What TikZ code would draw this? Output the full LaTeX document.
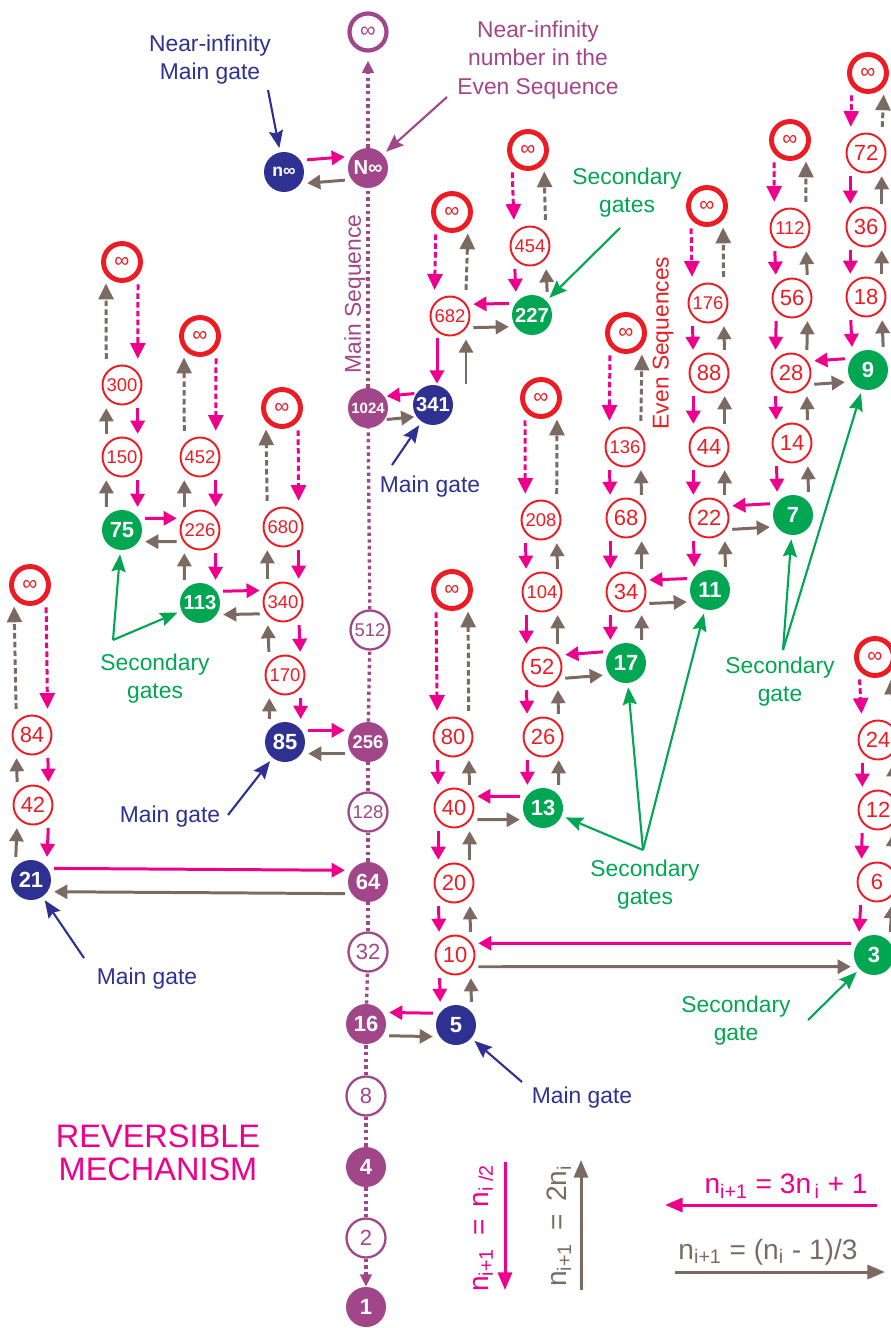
\documentclass[tikz,border=0pt]{standalone}
\usepackage{fontspec}
\setmainfont{Liberation Sans}
\usepackage{tikz}
\usetikzlibrary{arrows.meta}

\definecolor{evenred}{HTML}{ED1C24}
\definecolor{downpink}{HTML}{EC008C}
\definecolor{upbrown}{HTML}{7B6A62}
\definecolor{mainpurple}{HTML}{A2468A}
\definecolor{gateblue}{HTML}{2E3192}
\definecolor{gategreen}{HTML}{00A651}

\newcommand{\numsize}{\fontsize{12.5}{14}\selectfont}
\newcommand{\tinynum}{\fontsize{10.5}{12}\selectfont}
\newcommand{\lblsize}{\fontsize{13}{16}\selectfont}

\begin{document}
\begin{tikzpicture}[x=0.02cm,y=-0.02cm]
\useasboundingbox (0,0) rectangle (891,1328);
\clip (0,0) rectangle (891,1328);

% main sequence (powers of two)
\begin{scope}[every node/.style={circle,fill=mainpurple,text=white,inner sep=0pt,minimum size=0.8cm,font=\bfseries\numsize}]
    \node (Ninf) at (368,168) [font=\bfseries\fontsize{11.5}{12}\selectfont] {N∞};
    \node (1024) at (368,408) [font=\bfseries\fontsize{8.5}{10}\selectfont] {1024};
    \node (256) at (368,742) [font=\bfseries\tinynum] {256};
    \node (64) at (368,882) {64};
    \node (16) at (366,1024) {16};
    \node (4) at (366,1167) {4};
    \node (1) at (366,1307) {1};
\end{scope}
\begin{scope}[every node/.style={circle,draw=mainpurple,line width=1.3pt,text=mainpurple,inner sep=0pt,minimum size=0.78cm,font=\numsize}]
    \node (itop) at (368,32) [line width=2.4pt,minimum size=0.74cm] {∞};
    \node (512) at (370,630) [font=\tinynum] {512};
    \node (128) at (368,812) [font=\tinynum] {128};
    \node (32) at (368,952) {32};
    \node (8) at (366,1096) {8};
    \node (2) at (366,1238) {2};
\end{scope}

% main gates
\begin{scope}[every node/.style={circle,fill=gateblue,text=white,inner sep=0pt,minimum size=0.8cm,font=\bfseries\numsize}]
    \node (ninf) at (284,172) [font=\bfseries\fontsize{10}{12}\selectfont] {n∞};
    \node (341) at (433,405) [font=\bfseries\fontsize{11.5}{12}\selectfont] {341};
    \node (85) at (285,742) {85};
    \node (21) at (31,880) {21};
    \node (5) at (456,1025) {5};
\end{scope}

% secondary gates
\begin{scope}[every node/.style={circle,fill=gategreen,text=white,inner sep=0pt,minimum size=0.8cm,font=\bfseries\numsize}]
    \node (75) at (122,530) {75};
    \node (113) at (200,603) [font=\bfseries\fontsize{11.5}{12}\selectfont] {113};
    \node (227) at (532,315) [font=\bfseries\fontsize{11.5}{12}\selectfont] {227};
    \node (13) at (543,808) {13};
    \node (17) at (626,663) {17};
    \node (11) at (710,590) {11};
    \node (7) at (793,515) {7};
    \node (9) at (868,370) {9};
    \node (3) at (874,955) {3};
\end{scope}

% even sequences
\begin{scope}[every node/.style={circle,draw=evenred,line width=1.1pt,text=evenred,inner sep=0pt,minimum size=0.78cm,font=\numsize}]
    \node (300) at (122,385) [font=\tinynum] {300};
    \node (150) at (122,457) [font=\tinynum] {150};
    \node (452) at (200,457) [font=\tinynum] {452};
    \node (226) at (200,530) [font=\tinynum] {226};
    \node (680) at (283,527) [font=\tinynum] {680};
    \node (340) at (283,602) [font=\tinynum] {340};
    \node (170) at (285,675) [font=\tinynum] {170};
    \node (84) at (32,735) {84};
    \node (42) at (33,805) {42};
    \node (682) at (450,316) [font=\tinynum] {682};
    \node (454) at (530,246) [font=\tinynum] {454};
    \node (80) at (453,737) {80};
    \node (40) at (454,808) {40};
    \node (20) at (454,883) {20};
    \node (10) at (455,955) {10};
    \node (208) at (541,520) [font=\tinynum] {208};
    \node (104) at (542,592) [font=\tinynum] {104};
    \node (52) at (542,667) {52};
    \node (26) at (543,737) {26};
    \node (136) at (625,447) [font=\tinynum] {136};
    \node (68) at (626,518) {68};
    \node (34) at (626,592) {34};
    \node (176) at (708,303) [font=\tinynum] {176};
    \node (88) at (709,373) {88};
    \node (44) at (709,447) {44};
    \node (22) at (709,518) {22};
    \node (112) at (790,228) [font=\tinynum] {112};
    \node (56) at (792,298) {56};
    \node (28) at (791,373) {28};
    \node (14) at (792,443) {14};
    \node (72) at (866,153) {72};
    \node (36) at (866,227) {36};
    \node (18) at (866,297) {18};
    \node (24) at (878,740) {24};
    \node (12) at (878,810) {12};
    \node (6) at (877,882) {6};
\end{scope}
\begin{scope}[every node/.style={circle,draw=evenred,line width=2.8pt,text=evenred,inner sep=0pt,minimum size=0.74cm,font=\fontsize{12}{12}\selectfont}]
    \node (iA) at (30,585) {∞};
    \node (iB) at (122,262) {∞};
    \node (iC) at (200,336) {∞};
    \node (iD) at (282,408) {∞};
    \node (iL) at (452,212) {∞};
    \node (iM) at (528,150) {∞};
    \node (iE) at (452,590) {∞};
    \node (iF) at (541,398) {∞};
    \node (iG) at (626,333) {∞};
    \node (iH) at (707,206) {∞};
    \node (iI) at (790,140) {∞};
    \node (iJ) at (868,73) {∞};
    \node (iK) at (875,657) {∞};
\end{scope}

% labels
\begin{scope}[every node/.style={font=\lblsize,align=center}]
    \node (lbl_ninf) at (210,60) [text=gateblue] {Near-infinity\\Main gate};
    \node (lbl_Ninf) at (538,60) [text=mainpurple] {Near-infinity\\number in the\\Even Sequence};
    \node (lbl_main) at (355,294) [text=mainpurple,rotate=90] {Main Sequence};
    \node (lbl_even) at (663,343) [text=evenred,rotate=90] {Even Sequences};
    \node (lbl_341) at (430,487) [text=gateblue] {Main gate};
    \node (lbl_227) at (627,193) [text=gategreen] {Secondary\\gates};
    \node (lbl_left) at (155,679) [text=gategreen] {Secondary\\gates};
    \node (lbl_85) at (170,817) [text=gateblue] {Main gate};
    \node (lbl_21) at (147,979) [text=gateblue] {Main gate};
    \node (lbl_mid) at (645,885) [text=gategreen] {Secondary\\gates};
    \node (lbl_right) at (780,682) [text=gategreen] {Secondary\\gate};
    \node (lbl_3) at (736,1021) [text=gategreen] {Secondary\\gate};
    \node (lbl_5) at (582,1098) [text=gateblue] {Main gate};
    \node (lbl_rev) at (158,1153) [text=downpink,font=\fontsize{18.5}{19}\selectfont] {REVERSIBLE\\MECHANISM};
\end{scope}
\begin{scope}[every node/.style={font=\fontsize{16}{17}\selectfont}]
    \node (lbl_half) at (483,1228) [text=downpink,rotate=90] {n\textsubscript{i+1} \,=\, n\textsubscript{i /2}};
    \node (lbl_double) at (559,1226) [text=upbrown,rotate=90] {n\textsubscript{i+1} \,=\, 2n\textsubscript{i}};
    \node (lbl_triple) at (786,1186) [text=downpink] {n\textsubscript{i+1} = 3n\textsubscript{\,i} + 1};
    \node (lbl_third) at (768,1252) [text=upbrown] {n\textsubscript{i+1} = (n\textsubscript{i} - 1)/3};
\end{scope}

\coordinate (c_ninf) at (268,90);
\coordinate (c_Ninf) at (447,97);
\coordinate (c_341) at (392,465);
\coordinate (c_227) at (620,228);
\coordinate (v_left) at (113,640);
\coordinate (c_85) at (228,815);
\coordinate (c_21) at (84,958);
\coordinate (v_mid) at (643,850);
\coordinate (v_right) at (783,650);
\coordinate (c_3) at (808,1020);
\coordinate (c_5) at (522,1082);
\coordinate (key_a) at (505,1162);
\coordinate (key_b) at (505,1290);
\coordinate (key_c) at (581,1290);
\coordinate (key_d) at (581,1160);
\coordinate (key_e) at (877,1205);
\coordinate (key_f) at (665,1205);
\coordinate (key_g) at (675,1272);
\coordinate (key_h) at (885,1272);

\begin{scope}[>={Triangle[length=7.5pt,width=8pt]},
              pink_edge/.style={draw=downpink,line width=1.7pt,shorten <=0.2cm,shorten >=0.2cm},
              brown_edge/.style={pink_edge,draw=upbrown},
              pink_side/.style={pink_edge,shorten <=0.13cm,shorten >=0.13cm},
              brown_side/.style={pink_side,draw=upbrown},
              pink_dash/.style={draw=downpink,line width=1.7pt,dash pattern=on 3.2pt off 1.8pt,
                                -{Triangle[length=9pt,width=8.5pt]},shorten <=0.18cm,shorten >=0.26cm},
              brown_dash/.style={pink_dash,draw=upbrown,shorten <=0.26cm,shorten >=0.16cm},
              main_dots/.style={draw=mainpurple,line width=1.9pt,dash pattern=on 1.9pt off 1.9pt},
              main_tip/.style={-{Triangle[length=7pt,width=6.5pt]}},
              gate_edge/.style={line width=1.2pt,-{Stealth[length=10pt,width=8pt,inset=1.5pt]},shorten >=0.08cm},
              key_edge/.style={line width=1.7pt,-{Triangle[length=10pt,width=8pt]}}]
    % main sequence
    \path (Ninf) edge [main_dots,main_tip,shorten >=0.16cm] (itop);
    \path (1024) edge [main_dots] (Ninf);
    \path (512) edge [main_dots] (1024);
    \path (256) edge [main_dots] (512);
    \path (128) edge [main_dots] (256);
    \path (64) edge [main_dots] (128);
    \path (32) edge [main_dots] (64);
    \path (16) edge [main_dots] (32);
    \path (8) edge [main_dots] (16);
    \path (4) edge [main_dots] (8);
    \path (2) edge [main_dots] (4);
    \path (2) edge [main_dots,main_tip] (1);

    % columns left of the main sequence
    \path [->] (iA.-40) edge [pink_dash] (84.40);
    \path [->] (84.140) edge [brown_dash] (iA.-140);
    \path [->] (84.-40) edge [pink_edge] (42.40);
    \path [->] (42.140) edge [brown_edge] (84.-140);
    \path [->] (42.-40) edge [pink_edge] (21.40);
    \path [->] (21.140) edge [brown_edge] (42.-140);
    \path [->] (iB.-40) edge [pink_dash] (300.40);
    \path [->] (300.140) edge [brown_dash] (iB.-140);
    \path [->] (300.-40) edge [pink_edge] (150.40);
    \path [->] (150.140) edge [brown_edge] (300.-140);
    \path [->] (150.-40) edge [pink_edge] (75.40);
    \path [->] (75.140) edge [brown_edge] (150.-140);
    \path [->] (iC.-40) edge [pink_dash] (452.40);
    \path [->] (452.140) edge [brown_dash] (iC.-140);
    \path [->] (452.-40) edge [pink_edge] (226.40);
    \path [->] (226.140) edge [brown_edge] (452.-140);
    \path [->] (226.-40) edge [pink_edge] (113.40);
    \path [->] (113.140) edge [brown_edge] (226.-140);
    \path [->] (iD.-40) edge [pink_dash] (680.40);
    \path [->] (680.140) edge [brown_dash] (iD.-140);
    \path [->] (680.-40) edge [pink_edge] (340.40);
    \path [->] (340.140) edge [brown_edge] (680.-140);
    \path [->] (340.-40) edge [pink_edge] (170.40);
    \path [->] (170.140) edge [brown_edge] (340.-140);
    \path [->] (170.-40) edge [pink_edge] (85.40);
    \path [->] (85.140) edge [brown_edge] (170.-140);

    % columns right of the main sequence
    \path [->] (iL.-140) edge [pink_dash] (682.140);
    \path [->] (682.40) edge [brown_dash] (iL.-40);
    \path [->] ([xshift=-0.26cm]682.south) edge [pink_edge,shorten <=0.04cm,shorten >=0.02cm] ([xshift=-0.26cm]682.south |- 341.north);
    \path [->] ([xshift=0.32cm]682.south |- 341.north) edge [brown_edge,shorten <=0.02cm,shorten >=0.06cm] ([xshift=0.32cm]682.south);
    \path [->] (iM.-140) edge [pink_dash] (454.140);
    \path [->] (454.40) edge [brown_dash] (iM.-40);
    \path [->] (454.-140) edge [pink_edge] (227.140);
    \path [->] (227.40) edge [brown_edge] (454.-40);
    \path [->] (iE.-140) edge [pink_dash] (80.140);
    \path [->] (80.40) edge [brown_dash] (iE.-40);
    \path [->] (80.-140) edge [pink_edge] (40.140);
    \path [->] (40.40) edge [brown_edge] (80.-40);
    \path [->] (40.-140) edge [pink_edge] (20.140);
    \path [->] (20.40) edge [brown_edge] (40.-40);
    \path [->] (20.-140) edge [pink_edge] (10.140);
    \path [->] (10.40) edge [brown_edge] (20.-40);
    \path [->] (10.-140) edge [pink_edge] (5.140);
    \path [->] (5.40) edge [brown_edge] (10.-40);
    \path [->] (iF.-140) edge [pink_dash] (208.140);
    \path [->] (208.40) edge [brown_dash] (iF.-40);
    \path [->] (208.-140) edge [pink_edge] (104.140);
    \path [->] (104.40) edge [brown_edge] (208.-40);
    \path [->] (104.-140) edge [pink_edge] (52.140);
    \path [->] (52.40) edge [brown_edge] (104.-40);
    \path [->] (52.-140) edge [pink_edge] (26.140);
    \path [->] (26.40) edge [brown_edge] (52.-40);
    \path [->] (26.-140) edge [pink_edge] (13.140);
    \path [->] (13.40) edge [brown_edge] (26.-40);
    \path [->] (iG.-140) edge [pink_dash] (136.140);
    \path [->] (136.40) edge [brown_dash] (iG.-40);
    \path [->] (136.-140) edge [pink_edge] (68.140);
    \path [->] (68.40) edge [brown_edge] (136.-40);
    \path [->] (68.-140) edge [pink_edge] (34.140);
    \path [->] (34.40) edge [brown_edge] (68.-40);
    \path [->] (34.-140) edge [pink_edge] (17.140);
    \path [->] (17.40) edge [brown_edge] (34.-40);
    \path [->] (iH.-140) edge [pink_dash] (176.140);
    \path [->] (176.40) edge [brown_dash] (iH.-40);
    \path [->] (176.-140) edge [pink_edge] (88.140);
    \path [->] (88.40) edge [brown_edge] (176.-40);
    \path [->] (88.-140) edge [pink_edge] (44.140);
    \path [->] (44.40) edge [brown_edge] (88.-40);
    \path [->] (44.-140) edge [pink_edge] (22.140);
    \path [->] (22.40) edge [brown_edge] (44.-40);
    \path [->] (22.-140) edge [pink_edge] (11.140);
    \path [->] (11.40) edge [brown_edge] (22.-40);
    \path [->] (iI.-140) edge [pink_dash] (112.140);
    \path [->] (112.40) edge [brown_dash] (iI.-40);
    \path [->] (112.-140) edge [pink_edge] (56.140);
    \path [->] (56.40) edge [brown_edge] (112.-40);
    \path [->] (56.-140) edge [pink_edge] (28.140);
    \path [->] (28.40) edge [brown_edge] (56.-40);
    \path [->] (28.-140) edge [pink_edge] (14.140);
    \path [->] (14.40) edge [brown_edge] (28.-40);
    \path [->] (14.-140) edge [pink_edge] (7.140);
    \path [->] (7.40) edge [brown_edge] (14.-40);
    \path [->] (iJ.-140) edge [pink_dash] (72.140);
    \path [->] (72.40) edge [brown_dash] (iJ.-40);
    \path [->] (72.-140) edge [pink_edge] (36.140);
    \path [->] (36.40) edge [brown_edge] (72.-40);
    \path [->] (36.-140) edge [pink_edge] (18.140);
    \path [->] (18.40) edge [brown_edge] (36.-40);
    \path [->] (18.-140) edge [pink_edge] (9.140);
    \path [->] (9.40) edge [brown_edge] (18.-40);
    \path [->] (iK.-140) edge [pink_dash] (24.140);
    \path [->] (24.40) edge [brown_dash] (iK.-40);
    \path [->] (24.-140) edge [pink_edge] (12.140);
    \path [->] (12.40) edge [brown_edge] (24.-40);
    \path [->] (12.-140) edge [pink_edge] (6.140);
    \path [->] (6.40) edge [brown_edge] (12.-40);
    \path [->] (6.-140) edge [pink_edge] (3.140);
    \path [->] (3.40) edge [brown_edge] (6.-40);

    % crossings between sequences
    \path [->] (ninf.35) edge [pink_side] (Ninf.145);
    \path [->] (Ninf.-145) edge [brown_side] (ninf.-35);
    \path [->] (341.145) edge [pink_side,shorten <=0.04cm,shorten >=0.04cm] (1024.35);
    \path [->] (1024.-35) edge [brown_side,shorten <=0.04cm,shorten >=0.04cm] (341.-145);
    \path [->] (227.145) edge [pink_side] (682.35);
    \path [->] (682.-35) edge [brown_side] (227.-145);
    \path [->] (75.35) edge [pink_side] (226.145);
    \path [->] (226.-145) edge [brown_side] (75.-35);
    \path [->] (113.35) edge [pink_side] (340.145);
    \path [->] (340.-145) edge [brown_side] (113.-35);
    \path [->] (85.35) edge [pink_side] (256.145);
    \path [->] (256.-145) edge [brown_side] (85.-35);
    \path [->] (21.35) edge [pink_side] (64.145);
    \path [->] (64.-145) edge [brown_side] (21.-35);
    \path [->] (13.145) edge [pink_side] (40.35);
    \path [->] (40.-35) edge [brown_side] (13.-145);
    \path [->] (17.145) edge [pink_side] (52.35);
    \path [->] (52.-35) edge [brown_side] (17.-145);
    \path [->] (11.145) edge [pink_side] (34.35);
    \path [->] (34.-35) edge [brown_side] (11.-145);
    \path [->] (7.145) edge [pink_side] (22.35);
    \path [->] (22.-35) edge [brown_side] (7.-145);
    \path [->] (9.145) edge [pink_side] (28.35);
    \path [->] (28.-35) edge [brown_side] (9.-145);
    \path [->] (3.145) edge [pink_side] (10.35);
    \path [->] (10.-35) edge [brown_side] (3.-145);
    \path [->] (5.145) edge [pink_side] (16.35);
    \path [->] (16.-35) edge [brown_side] (5.-145);

    % pointers to the gates
    \path (c_ninf) edge [gate_edge,draw=gateblue] (ninf);
    \path (c_Ninf) edge [gate_edge,draw=mainpurple] (Ninf);
    \path (c_341) edge [gate_edge,draw=gateblue] (341);
    \path (c_227) edge [gate_edge,draw=gategreen] (227);
    \path (v_left) edge [gate_edge,draw=gategreen] (75);
    \path (v_left) edge [gate_edge,draw=gategreen] (113);
    \path (c_85) edge [gate_edge,draw=gateblue] (85);
    \path (c_21) edge [gate_edge,draw=gateblue] (21);
    \path (v_mid) edge [gate_edge,draw=gategreen] (13);
    \path (v_mid) edge [gate_edge,draw=gategreen] (17);
    \path (v_mid) edge [gate_edge,draw=gategreen] (11);
    \path (v_right) edge [gate_edge,draw=gategreen] (7);
    \path (v_right) edge [gate_edge,draw=gategreen] (9);
    \path (c_3) edge [gate_edge,draw=gategreen] (3);
    \path (c_5) edge [gate_edge,draw=gateblue] (5);

    % key
    \path (key_a) edge [key_edge,draw=downpink] (key_b);
    \path (key_c) edge [key_edge,draw=upbrown] (key_d);
    \path (key_e) edge [key_edge,draw=downpink] (key_f);
    \path (key_g) edge [key_edge,draw=upbrown] (key_h);
\end{scope}
\end{tikzpicture}
\end{document}
